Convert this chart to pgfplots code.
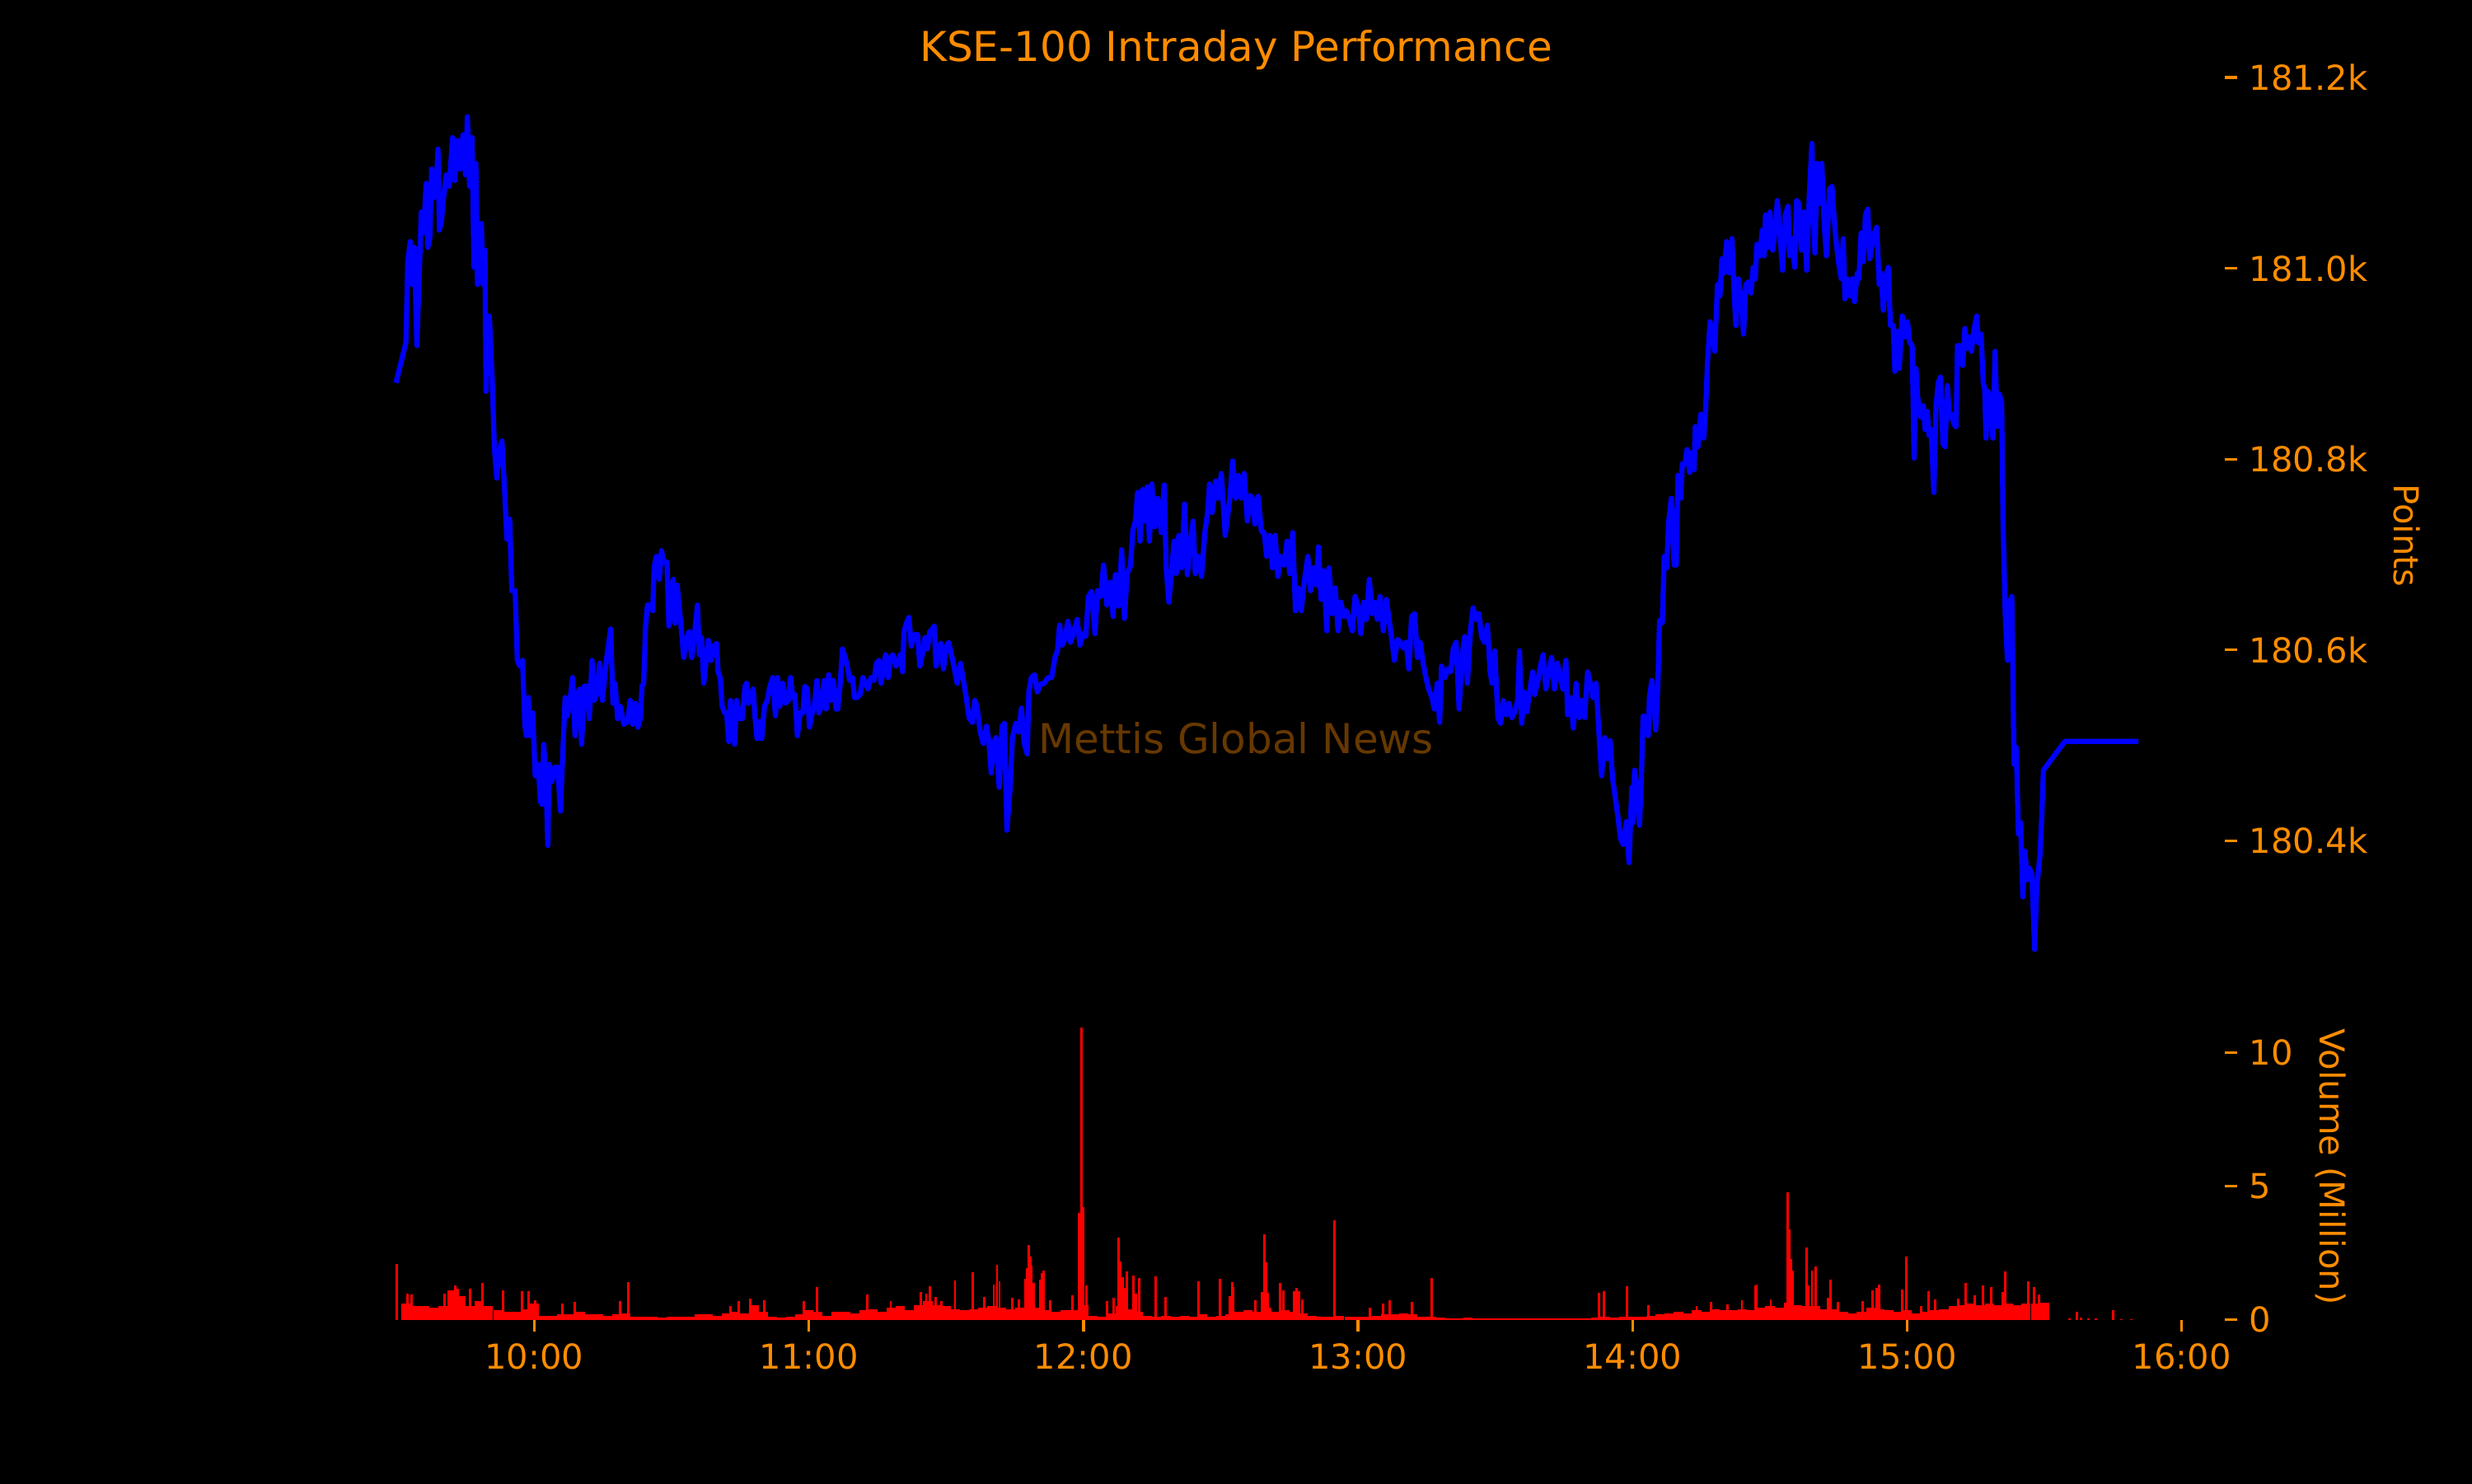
\documentclass[border=0pt]{standalone}
\usepackage{fontspec}
\setmainfont{DejaVu Sans}
\usepackage{pgfplots}
\usepackage{pgfplotstable}
\pgfplotsset{compat=1.18}
\definecolor{morange}{RGB}{255,140,0}
\definecolor{mblue}{RGB}{0,0,255}
\definecolor{mred}{RGB}{255,0,0}

\pgfplotstableread{
x y
9.496 180.880
9.532 180.922
9.539 181.007
9.548 181.028
9.555 180.983
9.563 181.022
9.572 180.919
9.583 181.013
9.588 181.059
9.596 181.037
9.606 181.089
9.612 181.022
9.619 181.031
9.626 181.104
9.633 181.074
9.642 181.083
9.649 181.125
9.654 181.040
9.662 181.050
9.667 181.068
9.679 181.098
9.690 181.086
9.702 181.137
9.710 181.092
9.720 181.134
9.729 181.104
9.740 181.140
9.749 181.098
9.756 181.159
9.764 181.086
9.773 181.137
9.780 181.001
9.787 181.110
9.793 180.983
9.800 181.019
9.807 181.047
9.813 180.983
9.820 181.019
9.824 180.871
9.829 180.922
9.836 180.950
9.847 180.880
9.854 180.813
9.863 180.780
9.871 180.807
9.882 180.819
9.891 180.771
9.900 180.716
9.910 180.737
9.918 180.662
9.930 180.662
9.938 180.589
9.947 180.583
9.957 180.589
9.965 180.522
9.971 180.510
9.978 180.550
9.985 180.510
9.994 180.534
10.003 180.468
10.014 180.480
10.022 180.441
10.029 180.438
10.034 180.501
10.042 180.468
10.049 180.395
10.054 180.480
10.064 180.462
10.074 180.477
10.085 180.477
10.095 180.431
10.101 180.474
10.112 180.550
10.121 180.531
10.131 180.550
10.139 180.571
10.148 180.510
10.157 180.553
10.164 180.559
10.172 180.501
10.182 180.562
10.192 180.562
10.200 180.528
10.210 180.589
10.218 180.547
10.227 180.553
10.238 180.586
10.248 180.547
10.262 180.589
10.278 180.622
10.286 180.544
10.294 180.565
10.303 180.528
10.313 180.541
10.326 180.522
10.340 180.525
10.349 180.547
10.358 180.522
10.368 180.544
10.377 180.519
10.386 180.528
10.392 180.562
10.398 180.565
10.405 180.625
10.412 180.647
10.423 180.647
10.431 180.641
10.436 180.686
10.444 180.698
10.455 180.674
10.463 180.704
10.472 180.692
10.483 180.692
10.490 180.625
10.498 180.656
10.506 180.674
10.512 180.628
10.520 180.668
10.530 180.638
10.538 180.613
10.544 180.592
10.552 180.610
10.563 180.619
10.573 180.592
10.583 180.616
10.594 180.647
10.601 180.595
10.609 180.613
10.617 180.565
10.626 180.589
10.634 180.610
10.644 180.589
10.653 180.604
10.664 180.607
10.669 180.577
10.677 180.571
10.684 180.541
10.693 180.534
10.700 180.534
10.708 180.504
10.714 180.547
10.721 180.534
10.729 180.501
10.737 180.547
10.747 180.528
10.757 180.528
10.767 180.562
10.773 180.565
10.780 180.544
10.788 180.553
10.797 180.559
10.804 180.528
10.811 180.507
10.822 180.525
10.828 180.507
10.838 180.541
10.848 180.547
10.858 180.562
10.868 180.571
10.878 180.531
10.886 180.571
10.894 180.541
10.905 180.565
10.914 180.544
10.925 180.547
10.933 180.571
10.941 180.550
10.949 180.553
10.958 180.510
10.968 180.534
10.978 180.534
10.985 180.562
10.994 180.559
11.002 180.519
11.012 180.534
11.021 180.544
11.029 180.568
11.036 180.534
11.045 180.541
11.055 180.568
11.063 180.538
11.072 180.574
11.081 180.547
11.089 180.568
11.099 180.538
11.105 180.538
11.114 180.565
11.122 180.601
11.132 180.592
11.140 180.583
11.148 180.568
11.159 180.571
11.166 180.550
11.175 180.550
11.186 180.553
11.197 180.571
11.206 180.565
11.215 180.559
11.226 180.571
11.237 180.568
11.246 180.586
11.255 180.589
11.263 180.565
11.273 180.583
11.279 180.595
11.289 180.571
11.297 180.592
11.306 180.595
11.317 180.583
11.326 180.589
11.333 180.595
11.341 180.577
11.346 180.619
11.355 180.628
11.364 180.634
11.373 180.604
11.384 180.616
11.396 180.616
11.404 180.583
11.413 180.595
11.423 180.613
11.431 180.601
11.440 180.619
11.450 180.622
11.456 180.625
11.463 180.583
11.471 180.598
11.480 180.607
11.490 180.580
11.500 180.604
11.509 180.608
11.526 180.586
11.540 180.565
11.552 180.586
11.561 180.571
11.573 180.550
11.583 180.529
11.595 180.524
11.604 180.547
11.612 180.541
11.624 180.514
11.635 180.502
11.647 180.520
11.655 180.505
11.664 180.471
11.672 180.502
11.681 180.508
11.693 180.456
11.703 180.520
11.712 180.523
11.721 180.411
11.733 180.456
11.741 180.508
11.753 180.523
11.764 180.514
11.774 180.539
11.784 180.502
11.795 180.491
11.801 180.556
11.810 180.571
11.822 180.574
11.832 180.556
11.844 180.564
11.857 180.565
11.870 180.571
11.884 180.571
11.896 180.592
11.905 180.599
11.913 180.626
11.922 180.605
11.932 180.611
11.943 180.630
11.953 180.608
11.965 180.620
11.977 180.632
11.987 180.605
11.998 180.617
12.008 180.614
12.018 180.656
12.029 180.661
12.042 180.617
12.051 180.662
12.063 180.656
12.073 180.689
12.085 180.647
12.097 180.671
12.108 180.635
12.116 180.679
12.128 180.646
12.139 180.705
12.149 180.633
12.159 180.680
12.171 180.688
12.180 180.726
12.189 180.735
12.197 180.765
12.206 180.714
12.215 180.768
12.223 180.735
12.232 180.771
12.240 180.714
12.249 180.774
12.259 180.729
12.270 180.759
12.283 180.723
12.294 180.773
12.301 180.686
12.311 180.650
12.321 180.683
12.330 180.714
12.338 180.680
12.347 180.720
12.357 180.686
12.368 180.753
12.378 180.679
12.387 180.705
12.399 180.735
12.407 180.680
12.418 180.698
12.430 180.677
12.442 180.723
12.452 180.744
12.459 180.774
12.469 180.744
12.481 180.777
12.490 180.759
12.502 180.785
12.516 180.720
12.524 180.738
12.533 180.759
12.543 180.798
12.554 180.759
12.564 180.783
12.574 180.759
12.585 180.785
12.597 180.735
12.607 180.762
12.615 180.759
12.624 180.732
12.636 180.761
12.648 180.724
12.658 180.723
12.667 180.698
12.679 180.720
12.688 180.686
12.698 180.720
12.708 180.677
12.719 180.698
12.731 180.689
12.741 180.714
12.751 180.680
12.762 180.723
12.772 180.641
12.782 180.665
12.793 180.641
12.805 180.674
12.817 180.698
12.827 180.662
12.838 180.686
12.848 180.668
12.856 180.708
12.865 180.653
12.875 180.683
12.886 180.620
12.894 180.686
12.906 180.638
12.917 180.665
12.927 180.620
12.937 180.650
12.948 180.635
12.958 180.641
12.968 180.632
12.979 180.620
12.989 180.656
13.001 180.644
13.010 180.617
13.020 180.650
13.030 180.632
13.041 180.674
13.051 180.638
13.061 180.650
13.070 180.632
13.080 180.656
13.092 180.620
13.103 180.653
13.113 180.632
13.123 180.611
13.132 180.589
13.144 180.611
13.154 180.608
13.164 180.602
13.175 180.608
13.185 180.580
13.195 180.635
13.206 180.638
13.216 180.592
13.226 180.608
13.237 180.586
13.247 180.571
13.257 180.559
13.269 180.550
13.278 180.538
13.288 180.565
13.297 180.524
13.304 180.583
13.316 180.571
13.326 180.580
13.337 180.577
13.347 180.602
13.357 180.608
13.368 180.538
13.378 180.592
13.388 180.614
13.398 180.565
13.409 180.620
13.419 180.644
13.430 180.632
13.440 180.638
13.450 180.614
13.460 180.608
13.471 180.626
13.481 180.577
13.488 180.565
13.498 180.599
13.509 180.529
13.519 180.523
13.529 180.547
13.540 180.532
13.550 180.544
13.560 180.529
13.571 180.535
13.581 180.547
13.588 180.599
13.596 180.523
13.605 180.556
13.615 180.535
13.626 180.559
13.636 180.577
13.643 180.553
13.653 180.565
13.664 180.583
13.674 180.595
13.684 180.559
13.695 180.577
13.705 180.592
13.715 180.559
13.726 180.586
13.736 180.571
13.746 180.559
13.757 180.589
13.763 180.532
13.774 180.550
13.784 180.518
13.794 180.565
13.805 180.529
13.815 180.547
13.825 180.529
13.836 180.577
13.846 180.565
13.856 180.550
13.867 180.565
13.877 180.514
13.887 180.468
13.898 180.508
13.908 180.486
13.918 180.505
13.927 180.465
13.936 180.447
13.946 180.426
13.956 180.402
13.966 180.396
13.977 180.420
13.987 180.377
13.997 180.456
14.001 180.419
14.007 180.474
14.017 180.450
14.025 180.416
14.032 180.468
14.038 180.531
14.048 180.528
14.057 180.510
14.061 180.550
14.070 180.568
14.078 180.541
14.084 180.516
14.092 180.565
14.098 180.631
14.108 180.628
14.115 180.698
14.124 180.686
14.131 180.734
14.141 180.759
14.151 180.689
14.159 180.689
14.165 180.783
14.175 180.759
14.181 180.795
14.191 180.795
14.198 180.810
14.208 180.786
14.216 180.807
14.224 180.789
14.228 180.834
14.238 180.813
14.248 180.847
14.259 180.822
14.266 180.853
14.273 180.904
14.282 180.944
14.291 180.928
14.299 180.913
14.309 180.983
14.318 180.971
14.325 181.010
14.333 180.995
14.342 181.028
14.352 180.995
14.362 181.031
14.369 180.977
14.376 180.940
14.385 180.989
14.396 180.965
14.404 180.931
14.412 180.983
14.423 180.986
14.431 180.974
14.439 181.001
14.447 180.989
14.452 181.025
14.463 181.013
14.472 181.040
14.479 181.013
14.484 181.056
14.492 181.022
14.500 181.059
14.510 181.019
14.519 181.040
14.527 181.071
14.536 181.037
14.546 180.998
14.556 181.056
14.566 181.065
14.572 181.013
14.580 181.031
14.590 181.001
14.597 181.071
14.606 181.068
14.614 181.019
14.623 181.059
14.634 180.998
14.643 181.074
14.653 181.131
14.658 181.056
14.664 181.016
14.672 181.110
14.680 181.068
14.689 181.110
14.698 181.043
14.706 181.013
14.717 181.083
14.726 181.086
14.733 181.056
14.741 181.028
14.751 181.004
14.760 180.989
14.767 181.031
14.773 180.968
14.781 180.989
14.791 180.971
14.800 180.989
14.808 180.965
14.818 180.995
14.824 180.989
14.832 181.037
14.840 181.007
14.848 181.056
14.856 181.062
14.864 181.010
14.872 181.025
14.880 181.037
14.889 181.043
14.898 180.983
14.905 180.995
14.913 180.956
14.921 180.989
14.931 181.001
14.939 180.940
14.949 180.940
14.955 180.892
14.965 180.934
14.971 180.895
14.982 180.950
14.992 180.928
15.001 180.944
15.009 180.922
15.018 180.919
15.025 180.801
15.032 180.895
15.038 180.865
15.049 180.844
15.059 180.856
15.065 180.831
15.073 180.850
15.079 180.825
15.087 180.831
15.097 180.765
15.105 180.856
15.113 180.880
15.121 180.886
15.130 180.816
15.138 180.813
15.146 180.877
15.154 180.844
15.162 180.847
15.170 180.837
15.178 180.834
15.183 180.919
15.192 180.919
15.202 180.898
15.210 180.937
15.219 180.916
15.226 180.928
15.234 180.913
15.242 180.934
15.253 180.950
15.259 180.922
15.269 180.931
15.277 180.880
15.282 180.874
15.287 180.822
15.295 180.871
15.304 180.856
15.312 180.822
15.320 180.913
15.328 180.834
15.336 180.868
15.344 180.859
15.349 180.734
15.357 180.637
15.365 180.589
15.373 180.650
15.381 180.656
15.389 180.480
15.397 180.498
15.405 180.407
15.413 180.419
15.421 180.341
15.429 180.389
15.437 180.359
15.445 180.371
15.454 180.365
15.464 180.286
15.472 180.353
15.483 180.383
15.490 180.425
15.496 180.474
15.574 180.504
15.842 180.504
}\pricetable

\pgfplotstableread{
x v
9.533 0.60
9.567 0.50
9.600 0.50
9.633 0.45
9.667 0.50
9.700 1.10
9.733 0.90
9.767 0.50
9.800 0.70
9.833 0.50
9.867 0.35
9.900 0.30
9.933 0.30
9.967 0.40
10.000 0.60
10.033 0.15
10.067 0.15
10.100 0.20
10.133 0.20
10.167 0.30
10.200 0.20
10.233 0.20
10.267 0.15
10.300 0.20
10.333 0.25
10.367 0.10
10.400 0.12
10.433 0.10
10.467 0.08
10.500 0.10
10.533 0.10
10.567 0.12
10.600 0.20
10.633 0.20
10.667 0.15
10.700 0.25
10.733 0.30
10.767 0.25
10.800 0.55
10.833 0.30
10.867 0.10
10.900 0.08
10.933 0.10
10.967 0.20
11.000 0.35
11.033 0.30
11.067 0.15
11.100 0.30
11.133 0.30
11.167 0.25
11.200 0.35
11.233 0.40
11.267 0.30
11.300 0.45
11.333 0.50
11.367 0.35
11.400 0.55
11.433 0.70
11.467 0.55
11.500 0.50
11.533 0.40
11.567 0.35
11.600 0.40
11.633 0.45
11.667 0.50
11.700 0.45
11.733 0.40
11.767 0.45
11.800 0.55
11.833 0.45
11.867 0.35
11.900 0.30
11.933 0.35
11.967 0.35
12.000 0.55
12.033 0.15
12.067 0.10
12.100 0.25
12.133 0.50
12.167 0.40
12.200 0.30
12.233 0.15
12.267 0.10
12.300 0.15
12.333 0.12
12.367 0.15
12.400 0.10
12.433 0.20
12.467 0.10
12.500 0.15
12.533 0.20
12.567 0.30
12.600 0.35
12.633 0.30
12.667 0.45
12.700 0.30
12.733 0.35
12.767 0.30
12.800 0.25
12.833 0.15
12.867 0.10
12.900 0.10
12.933 0.15
12.967 0.12
13.000 0.10
13.033 0.12
13.067 0.15
13.100 0.20
13.133 0.20
13.167 0.25
13.200 0.20
13.233 0.12
13.267 0.10
13.300 0.08
13.333 0.06
13.367 0.06
13.400 0.08
13.433 0.06
13.467 0.06
13.500 0.05
13.533 0.06
13.567 0.05
13.600 0.05
13.633 0.04
13.667 0.05
13.700 0.04
13.733 0.05
13.767 0.06
13.800 0.05
13.833 0.06
13.867 0.08
13.900 0.10
13.933 0.08
13.967 0.10
14.000 0.12
14.033 0.12
14.067 0.15
14.100 0.20
14.133 0.25
14.167 0.30
14.200 0.25
14.233 0.35
14.267 0.30
14.300 0.40
14.333 0.35
14.367 0.35
14.400 0.40
14.433 0.35
14.467 0.45
14.500 0.50
14.533 0.45
14.567 0.65
14.600 0.55
14.633 0.50
14.667 0.50
14.700 0.40
14.733 0.40
14.767 0.30
14.800 0.25
14.833 0.30
14.867 0.45
14.900 0.40
14.933 0.35
14.967 0.30
15.000 0.35
15.033 0.25
15.067 0.30
15.100 0.35
15.133 0.40
15.167 0.50
15.200 0.55
15.233 0.60
15.267 0.55
15.300 0.60
15.333 0.55
15.367 0.60
15.400 0.55
15.433 0.60
15.467 0.60
15.500 0.65
}\volbase

\pgfplotstableread{
x v
9.500 2.09
9.539 0.97
9.553 0.95
9.672 0.97
9.711 1.28
9.720 1.15
9.766 1.15
9.811 1.39
9.887 1.10
9.956 1.08
9.978 1.06
10.004 0.72
10.102 0.61
10.147 0.66
10.312 0.70
10.343 1.41
10.713 0.51
10.744 0.70
10.787 0.79
10.837 0.72
10.980 0.70
11.028 1.21
11.212 0.94
11.298 0.69
11.407 1.03
11.427 0.97
11.441 1.25
11.462 0.87
11.482 0.69
11.532 1.47
11.596 1.78
11.639 0.85
11.673 1.33
11.685 2.05
11.694 1.44
11.740 0.82
11.766 0.77
11.789 1.54
11.794 1.92
11.801 2.80
11.806 2.36
11.811 2.02
11.820 1.37
11.842 1.51
11.849 1.75
11.854 1.85
11.878 0.72
11.961 0.91
11.983 4.00
11.993 10.94
11.998 4.22
12.012 1.29
12.087 0.70
12.109 0.82
12.128 3.08
12.133 2.18
12.143 1.59
12.148 1.20
12.157 1.82
12.181 1.66
12.190 0.97
12.204 1.55
12.264 1.62
12.298 0.85
12.419 1.44
12.498 1.54
12.532 0.89
12.541 1.41
12.546 1.23
12.627 0.72
12.651 1.05
12.660 3.21
12.665 2.16
12.670 1.00
12.715 1.39
12.728 1.10
12.766 1.06
12.775 1.20
12.784 1.07
12.797 0.77
12.913 3.72
13.042 0.46
13.090 0.61
13.114 0.72
13.195 0.66
13.269 1.56
13.878 1.00
13.894 1.06
13.980 1.25
14.057 0.56
14.233 0.51
14.286 0.66
14.345 0.58
14.398 0.72
14.447 1.28
14.452 1.31
14.503 0.75
14.564 4.76
14.571 3.39
14.576 2.26
14.583 1.85
14.633 2.72
14.639 1.28
14.653 1.85
14.667 2.00
14.713 0.82
14.722 1.49
14.748 0.66
14.839 0.70
14.873 1.10
14.889 1.18
14.899 1.33
14.982 1.13
14.997 2.36
15.051 0.51
15.077 1.06
15.102 0.77
15.187 0.79
15.213 1.39
15.247 0.92
15.276 1.28
15.307 1.23
15.347 1.03
15.357 1.80
15.414 0.56
15.440 1.44
15.462 1.23
15.479 0.95
15.591 0.05
15.617 0.31
15.634 0.07
15.660 0.05
15.686 0.04
15.751 0.36
15.780 0.03
15.815 0.03
}\volspike

\begin{document}
\begin{tikzpicture}
\path[use as bounding box] (0,0) rectangle (720pt,432pt);
\fill[black] (-3pt,-3pt) rectangle (723pt,435pt);

\begin{axis}[
  at={(90.3pt,142.4pt)}, anchor=south west,
  scale only axis, width=557.8pt, height=267.3pt,
  xmin=9.183, xmax=16.158, ymin=180.239, ymax=181.201,
  axis x line=none, axis y line*=right,
  axis line style={draw=none},
  tick align=outside, major tick length=3.5pt,
  tick style={morange, line width=0.8pt},
  ytick={180.4,180.6,180.8,181.0,181.2},
  yticklabels={180.4k,180.6k,180.8k,181.0k,181.2k},
  yticklabel style={text=morange, font=\fontsize{10}{12}\selectfont},
]
\addplot[mblue, line width=1.5pt, line join=round] table[x=x,y=y] {\pricetable};
\end{axis}

\begin{axis}[
  at={(90.3pt,47.6pt)}, anchor=south west,
  scale only axis, width=557.8pt, height=89.1pt,
  xmin=9.183, xmax=16.158, ymin=0, ymax=11.46,
  axis x line*=bottom, axis y line*=right,
  axis line style={draw=none},
  tick align=outside, major tick length=3.5pt,
  tick style={morange, line width=0.8pt},
  xtick={10,11,12,13,14,15,16},
  xticklabels={10:00,11:00,12:00,13:00,14:00,15:00,16:00},
  ytick={0,5,10},
  yticklabels={0,5,10},
  ticklabel style={text=morange, font=\fontsize{10}{12}\selectfont},
]
\addplot[mred, ycomb, line width=2.7pt] table[x=x,y=v] {\volbase};
\addplot[mred, ycomb, line width=0.7pt] table[x=x,y=v] {\volspike};
\end{axis}

\node[anchor=base, text=morange, font=\fontsize{12}{14}\selectfont] at (360pt,414.2pt) {KSE-100 Intraday Performance};
\node[anchor=base, text=morange!40!black, font=\fontsize{12}{14}\selectfont] at (360pt,212.6pt) {Mettis Global News};
\node[rotate=-90, anchor=base, text=morange, font=\fontsize{10}{12}\selectfont] at (697.4pt,276pt) {Points};
\node[rotate=-90, anchor=base, text=morange, font=\fontsize{10}{12}\selectfont] at (675.7pt,92.2pt) {Volume (Million)};
\end{tikzpicture}
\end{document}
